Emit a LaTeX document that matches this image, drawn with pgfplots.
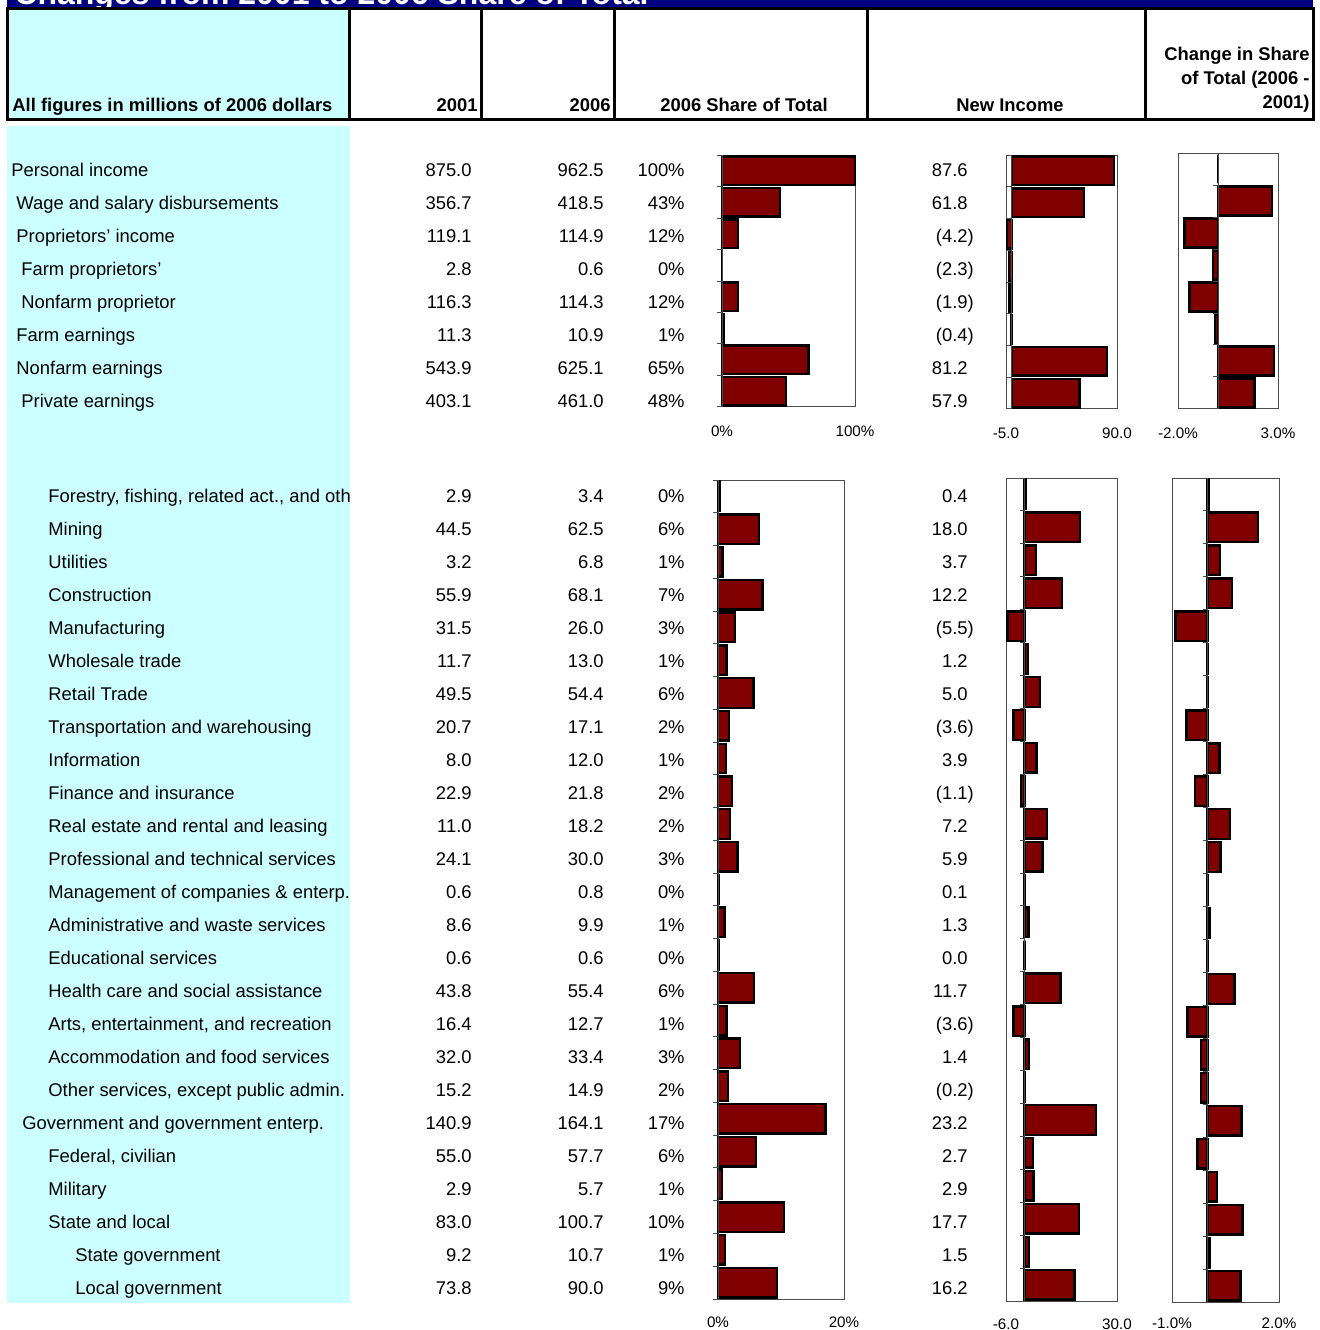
\documentclass[border=0pt]{standalone}
\usepackage{fontspec}
\setmainfont{Liberation Sans}
\usepackage{pgfplots}
\pgfplotsset{compat=1.18}
\definecolor{barred}{HTML}{800000}
\definecolor{navyband}{HTML}{000080}
\definecolor{cyanbg}{HTML}{CCFFFF}
\newcommand\tf{\fontsize{9.2}{11}\selectfont}
\newcommand\lab[3]{\node[anchor=base west] at ({#2},{#1+6.5}) {#3};}
\newcommand\nums[5]{%
 \node[anchor=base east] at (472,{#1+6.5}) {#2};
 \node[anchor=base east] at (604,{#1+6.5}) {#3};
 \node[anchor=base east] at (685,{#1+6.5}) {#4\%};
 \node[anchor=base east] at (968,{#1+6.5}) {#5};}
\newcommand\negv[1]{(#1\rlap{)}}
\tikzset{tickst/.style={black!70, line width=0.5pt}}
\pgfplotsset{
 barchart/.style={
  scale only axis, xbar, bar width=0.9, enlargelimits=false, clip=false,
  y dir=reverse, ytick=\empty, major tick length=0pt,
  anchor=north west,
  axis line style={black!70, line width=0.5pt},
  /pgf/number format/assume math mode=true,
  xticklabel style={font=\fontsize{7.6}{9}\selectfont, yshift=-6pt},
 },
 barplot/.style={fill=barred, draw=black, line width=1.2pt},
}
\newcommand\cticks[1]{%
 \pgfplotsinvokeforeach{#1}{\draw[tickst] (axis cs:0,##1) -- ([xshift=-2.5pt]axis cs:0,##1);}}
\begin{document}
\begin{tikzpicture}
\begin{scope}[x=0.5pt,y=-0.5pt,every node/.style={inner sep=0pt,font=\tf}]
\fill[cyanbg] (7,126) rectangle (350,1303);
\fill[cyanbg] (7,8) rectangle (349,119);
\fill[navyband] (7,-10) rectangle (1313,8);
\begin{scope}
\clip (7,-40) rectangle (1313,8);
\node[anchor=base west, text=white, font=\bfseries\fontsize{16}{19}\selectfont] at (14,4) {Changes from 2001 to 2006 Share of Total};
\end{scope}
% header borders
\draw[line width=1.5pt] (5.5,8) -- (1314.5,8);
\draw[line width=1.5pt] (5.5,119) -- (1314.5,119);
\foreach \xx in {7,349,481,614,867,1145,1313}{\draw[line width=1.5pt] (\xx,8) -- (\xx,119);}
% header texts
\node[anchor=base west, font=\tf\bfseries] at (12,111) {All figures in millions of 2006 dollars};
\node[anchor=base east, font=\tf\bfseries] at (478,111) {2001};
\node[anchor=base east, font=\tf\bfseries] at (611,111) {2006};
\node[anchor=base, font=\tf\bfseries] at (744,111) {2006 Share of Total};
\node[anchor=base, font=\tf\bfseries] at (1010,111) {New Income};
\node[anchor=base east, font=\tf\bfseries] at (1310,60) {Change in Share};
\node[anchor=base east, font=\tf\bfseries] at (1310,84) {of Total (2006 -};
\node[anchor=base east, font=\tf\bfseries] at (1310,108) {2001)};
% labels
\begin{scope}
\clip (7,126) rectangle (349,1303);
\lab{170}{11}{Personal income}
\lab{203}{16}{Wage and salary disbursements}
\lab{236}{16}{Proprietors' income}
\lab{269}{21}{Farm proprietors'}
\lab{302}{21}{Nonfarm proprietor}
\lab{335}{16}{Farm earnings}
\lab{368}{16}{Nonfarm earnings}
\lab{401}{21}{Private earnings}
\lab{496}{48}{Forestry, fishing, related act., and other}
\lab{529}{48}{Mining}
\lab{562}{48}{Utilities}
\lab{595}{48}{Construction}
\lab{628}{48}{Manufacturing}
\lab{661}{48}{Wholesale trade}
\lab{694}{48}{Retail Trade}
\lab{727}{48}{Transportation and warehousing}
\lab{760}{48}{Information}
\lab{793}{48}{Finance and insurance}
\lab{826}{48}{Real estate and rental and leasing}
\lab{859}{48}{Professional and technical services}
\lab{892}{48}{Management of companies \& enterp.}
\lab{925}{48}{Administrative and waste services}
\lab{958}{48}{Educational services}
\lab{991}{48}{Health care and social assistance}
\lab{1024}{48}{Arts, entertainment, and recreation}
\lab{1057}{48}{Accommodation and food services}
\lab{1090}{48}{Other services, except public admin.}
\lab{1123}{22}{Government and government enterp.}
\lab{1156}{48}{Federal, civilian}
\lab{1189}{48}{Military}
\lab{1222}{48}{State and local}
\lab{1255}{75}{State government}
\lab{1288}{75}{Local government}
\end{scope}
% numbers
\nums{170}{875.0}{962.5}{100}{87.6}
\nums{203}{356.7}{418.5}{43}{61.8}
\nums{236}{119.1}{114.9}{12}{\negv{4.2}}
\nums{269}{2.8}{0.6}{0}{\negv{2.3}}
\nums{302}{116.3}{114.3}{12}{\negv{1.9}}
\nums{335}{11.3}{10.9}{1}{\negv{0.4}}
\nums{368}{543.9}{625.1}{65}{81.2}
\nums{401}{403.1}{461.0}{48}{57.9}
\nums{496}{2.9}{3.4}{0}{0.4}
\nums{529}{44.5}{62.5}{6}{18.0}
\nums{562}{3.2}{6.8}{1}{3.7}
\nums{595}{55.9}{68.1}{7}{12.2}
\nums{628}{31.5}{26.0}{3}{\negv{5.5}}
\nums{661}{11.7}{13.0}{1}{1.2}
\nums{694}{49.5}{54.4}{6}{5.0}
\nums{727}{20.7}{17.1}{2}{\negv{3.6}}
\nums{760}{8.0}{12.0}{1}{3.9}
\nums{793}{22.9}{21.8}{2}{\negv{1.1}}
\nums{826}{11.0}{18.2}{2}{7.2}
\nums{859}{24.1}{30.0}{3}{5.9}
\nums{892}{0.6}{0.8}{0}{0.1}
\nums{925}{8.6}{9.9}{1}{1.3}
\nums{958}{0.6}{0.6}{0}{0.0}
\nums{991}{43.8}{55.4}{6}{11.7}
\nums{1024}{16.4}{12.7}{1}{\negv{3.6}}
\nums{1057}{32.0}{33.4}{3}{1.4}
\nums{1090}{15.2}{14.9}{2}{\negv{0.2}}
\nums{1123}{140.9}{164.1}{17}{23.2}
\nums{1156}{55.0}{57.7}{6}{2.7}
\nums{1189}{2.9}{5.7}{1}{2.9}
\nums{1222}{83.0}{100.7}{10}{17.7}
\nums{1255}{9.2}{10.7}{1}{1.5}
\nums{1288}{73.8}{90.0}{9}{16.2}
\end{scope}

% ---------- top charts ----------
\begin{axis}[barchart, at={(361pt,-77.5pt)}, width=66.5pt, height=126pt,
  xmin=0, xmax=100, ymin=0.5, ymax=8.5, xtick={0,100}, xticklabels={0\%,100\%}]
\addplot[barplot] coordinates {(100,1) (43.48,2) (11.94,3) (0.06,4) (11.88,5) (1.13,6) (64.95,7) (47.90,8)};
\cticks{0.5,1.5,...,8.5}
\draw[tickst] (axis cs:0,0.5) -- (axis cs:0,8.5);
\end{axis}
\begin{axis}[barchart, at={(503pt,-77.5pt)}, width=55.5pt, height=127pt,
  xmin=-5, xmax=90, ymin=0.5, ymax=8.5, xtick={-5,90}, xticklabels={-5.0,90.0}]
\addplot[barplot] coordinates {(87.6,1) (61.8,2) (-4.2,3) (-2.3,4) (-1.9,5) (-0.4,6) (81.2,7) (57.9,8)};
\cticks{0.5,1.5,...,8.5}
\draw[tickst] (axis cs:0,0.5) -- (axis cs:0,8.5);
\end{axis}
\begin{axis}[barchart, at={(589pt,-76.5pt)}, width=50pt, height=128pt,
  xmin=-2, xmax=3, ymin=0.5, ymax=8.5, xtick={-2,3}, xticklabels={-2.0\%,3.0\%}]
\addplot[barplot] coordinates {(0,1) (2.71,2) (-1.67,3) (-0.26,4) (-1.42,5) (-0.16,6) (2.79,7) (1.83,8)};
\cticks{0.5,1.5,...,8.5}
\draw[tickst] (axis cs:0,0.5) -- (axis cs:0,8.5);
\end{axis}

% ---------- bottom charts ----------
\begin{axis}[barchart, at={(359pt,-240pt)}, width=63pt, height=409.5pt,
  xmin=0, xmax=20, ymin=0.5, ymax=25.5, xtick={0,20}, xticklabels={0\%,20\%},
  xticklabel style={yshift=0.5pt}]
\addplot[barplot] coordinates {(0.35,1) (6.49,2) (0.71,3) (7.08,4) (2.70,5) (1.35,6) (5.65,7) (1.78,8) (1.25,9) (2.26,10) (1.89,11) (3.12,12) (0.08,13) (1.03,14) (0.06,15) (5.76,16) (1.32,17) (3.47,18) (1.55,19) (17.05,20) (5.99,21) (0.59,22) (10.46,23) (1.11,24) (9.35,25)};
\cticks{0.5,1.5,...,25.5}
\draw[tickst] (axis cs:0,0.5) -- (axis cs:0,25.5);
\end{axis}
\begin{axis}[barchart, at={(503pt,-239pt)}, width=55.5pt, height=411.5pt,
  xmin=-6, xmax=30, ymin=0.5, ymax=25.5, xtick={-6,30}, xticklabels={-6.0,30.0},
  xticklabel style={yshift=0.5pt}]
\addplot[barplot] coordinates {(0.4,1) (18.0,2) (3.7,3) (12.2,4) (-5.5,5) (1.2,6) (5.0,7) (-3.6,8) (3.9,9) (-1.1,10) (7.2,11) (5.9,12) (0.1,13) (1.3,14) (0.0,15) (11.7,16) (-3.6,17) (1.4,18) (-0.2,19) (23.2,20) (2.7,21) (2.9,22) (17.7,23) (1.5,24) (16.2,25)};
\cticks{0.5,1.5,...,25.5}
\draw[tickst] (axis cs:0,0.5) -- (axis cs:0,25.5);
\end{axis}
\begin{axis}[barchart, at={(586pt,-239pt)}, width=53.5pt, height=412pt,
  xmin=-1, xmax=2, ymin=0.5, ymax=25.5, xtick={-1,2}, xticklabels={-1.0\%,2.0\%},
  xticklabel style={yshift=1.5pt}]
\addplot[barplot] coordinates {(0.02,1) (1.41,2) (0.34,3) (0.69,4) (-0.90,5) (0.01,6) (-0.01,7) (-0.59,8) (0.33,9) (-0.35,10) (0.63,11) (0.36,12) (0.01,13) (0.05,14) (-0.01,15) (0.75,16) (-0.56,17) (-0.19,18) (-0.19,19) (0.95,20) (-0.29,21) (0.26,22) (0.98,23) (0.06,24) (0.92,25)};
\cticks{0.5,1.5,...,25.5}
\draw[tickst] (axis cs:0,0.5) -- (axis cs:0,25.5);
\end{axis}
\pgfresetboundingbox
\path[use as bounding box] (0pt,0pt) rectangle (660pt,-665pt);
\end{tikzpicture}
\end{document}
